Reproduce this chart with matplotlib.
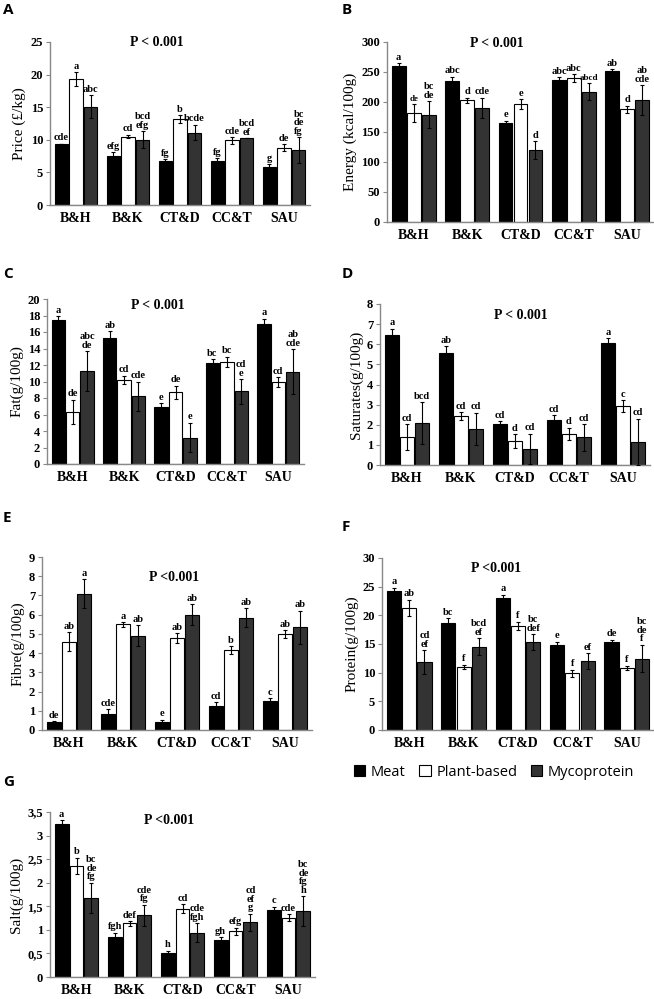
import matplotlib
matplotlib.use("Agg")
import matplotlib.pyplot as plt
import numpy as np
from matplotlib.patches import Patch

groups = ["B&H", "B&K", "CT&D", "CC&T", "SAU"]
series = ["Meat", "Plant-based", "Mycoprotein"]
colors = ["#000000", "#ffffff", "#333333"]

# each list: [meat, plant-based, mycoprotein]
price_mean = [[9.4, 7.5, 6.7, 6.8, 5.9], [19.3, 10.5, 13.2, 9.9, 8.8], [15.1, 10.0, 11.1, 10.2, 8.4]]
price_err = [[0.0, 0.6, 0.3, 0.4, 0.4], [1.1, 0.3, 0.6, 0.5, 0.5], [1.7, 1.3, 1.2, 0.0, 2.0]]
price_let = [["cde", "efg", "fg", "fg", "g"], ["a", "cd", "b", "cde", "de"],
             ["abc", "bcd\nefg", "bcde", "bcd\nef", "bc\nde\nfg"]]

energy_mean = [[260, 235, 165, 236, 251], [181, 203, 197, 240, 188], [179, 190, 120, 217, 203]]
energy_err = [[5, 7, 4, 5, 4], [15, 4, 8, 6, 6], [22, 17, 15, 14, 25]]
energy_let = [["a", "abc", "e", "abc", "ab"], ["de", "d", "e", "abc", "d"],
              ["bc\nde", "cde", "d", "abcd", "ab\ncde"]]

fat_mean = [[17.5, 15.3, 6.9, 12.2, 17.0], [6.3, 10.2, 8.7, 12.4, 9.9], [11.3, 8.2, 3.2, 8.8, 11.2]]
fat_err = [[0.4, 0.8, 0.5, 0.5, 0.6], [1.5, 0.5, 0.8, 0.6, 0.6], [2.4, 1.8, 1.8, 1.5, 2.7]]
fat_let = [["a", "ab", "e", "bc", "a"], ["de", "cd", "de", "bc", "cd"],
           ["abc\nde", "cde", "e", "cd\ne", "ab\ncde"]]

sat_mean = [[6.48, 5.56, 2.03, 2.23, 6.08], [1.38, 2.43, 1.17, 1.55, 2.92], [2.08, 1.8, 0.8, 1.37, 1.15]]
sat_err = [[0.3, 0.35, 0.15, 0.25, 0.22], [0.65, 0.2, 0.35, 0.3, 0.3], [1.05, 0.8, 0.75, 0.65, 1.15]]
sat_let = [["a", "ab", "cd", "cd", "a"], ["cd", "cd", "d", "d", "c"],
           ["bcd", "cd", "cd", "cd", "cd"]]

fibre_mean = [[0.4, 0.82, 0.42, 1.25, 1.5], [4.6, 5.5, 4.8, 4.15, 5.0], [7.1, 4.9, 6.0, 5.85, 5.35]]
fibre_err = [[0.05, 0.25, 0.12, 0.2, 0.15], [0.5, 0.12, 0.25, 0.2, 0.2], [0.75, 0.55, 0.55, 0.5, 0.85]]
fibre_let = [["de", "cde", "e", "cd", "c"], ["ab", "a", "ab", "b", "ab"],
             ["a", "ab", "ab", "ab", "ab"]]

protein_mean = [[24.2, 18.7, 23.1, 14.9, 15.35], [21.3, 11.0, 18.2, 9.9, 10.8], [11.8, 14.5, 15.35, 12.0, 12.45]]
protein_err = [[0.6, 0.8, 0.5, 0.5, 0.4], [1.4, 0.4, 0.7, 0.6, 0.4], [2.1, 1.5, 1.4, 1.4, 2.4]]
protein_let = [["a", "bc", "a", "e", "de"], ["ab", "f", "f", "f", "f"],
               ["cd\nef", "bcd\nef", "bc\ndef", "ef", "bc\nde\nf"]]

salt_mean = [[3.24, 0.84, 0.51, 0.78, 1.43], [2.36, 1.14, 1.45, 0.97, 1.26], [1.68, 1.31, 0.94, 1.16, 1.4]]
salt_err = [[0.08, 0.1, 0.05, 0.06, 0.06], [0.17, 0.05, 0.09, 0.08, 0.07], [0.32, 0.22, 0.2, 0.18, 0.31]]
salt_let = [["a", "fgh", "h", "gh", "c"], ["b", "def", "cd", "efg", "cde"],
            ["bc\nde\nfg", "cde\nfg", "cde\nfgh", "cd\nef\ng", "bc\nde\nfg\nh"]]

plt.rcParams["font.family"] = ["Liberation Serif", "DejaVu Serif"]
plt.rcParams["font.weight"] = "bold"

fig = plt.figure(figsize=(6.54, 9.99), dpi=100)
W, H = 654.0, 999.0


def make_ax(left, right, top, bottom):
    return fig.add_axes([left / W, 1 - bottom / H, (right - left) / W, (bottom - top) / H])


def draw(ax, mean, err, let, ymax, ticks, ticklabels, ylabel, ptext, ppos, small=()):
    x = np.arange(len(groups))
    for i in range(3):
        pos = x + (i - 1) * 0.28
        ax.bar(pos, mean[i], 0.26, color=colors[i], edgecolor="black", linewidth=0.8, zorder=2)
        ax.errorbar(pos, mean[i], yerr=err[i], fmt="none", ecolor="black",
                    elinewidth=0.8, capsize=1.5, capthick=0.8, zorder=3)
        for j in range(len(groups)):
            fs = 6.5 if (i, j) in small else 7.5
            ax.annotate(let[i][j], (pos[j], mean[i][j] + err[i][j]), xytext=(0, 1),
                        textcoords="offset points", ha="center", va="bottom",
                        fontsize=fs, fontweight="bold", linespacing=0.95)
    ax.set_xlim(-0.5, 4.5)
    ax.set_ylim(0, ymax)
    ax.set_yticks(ticks)
    ax.set_yticklabels(ticklabels)
    ax.set_xticks(x)
    ax.set_xticklabels(groups, fontsize=10)
    ax.tick_params(axis="x", length=0, pad=5)
    ax.tick_params(axis="y", length=3, color="#888888", labelsize=9, pad=2)
    for s in ["top", "right"]:
        ax.spines[s].set_visible(False)
    for s in ["left", "bottom"]:
        ax.spines[s].set_color("#888888")
        ax.spines[s].set_linewidth(1.0)
    ax.set_ylabel(ylabel, fontsize=11, labelpad=3)
    ax.text(ppos[0], ppos[1], ptext, transform=ax.transAxes, ha="center", va="center", fontsize=10)


axA = make_ax(50, 310, 42, 205)
draw(axA, price_mean, price_err, price_let, 25, range(0, 26, 5), [str(t) for t in range(0, 26, 5)],
     "Price (£/kg)", "P < 0.001", (0.41, 0.997))

axB = make_ax(387, 654, 42, 222)
draw(axB, energy_mean, energy_err, energy_let, 300, range(0, 301, 50), [str(t) for t in range(0, 301, 50)],
     "Energy (kcal/100g)", "P < 0.001", (0.41, 0.994), small={(2, 3), (1, 0)})

axC = make_ax(47, 304, 299, 464)
draw(axC, fat_mean, fat_err, fat_let, 20, range(0, 21, 2), [str(t) for t in range(0, 21, 2)],
     "Fat(g/100g)", "P < 0.001", (0.43, 0.96))

axD = make_ax(380, 650, 304, 465)
draw(axD, sat_mean, sat_err, sat_let, 8, range(0, 9), [str(t) for t in range(0, 9)],
     "Saturates(g/100g)", "P < 0.001", (0.52, 0.93))

axE = make_ax(42, 312, 557, 730)
draw(axE, fibre_mean, fibre_err, fibre_let, 9, range(0, 10), [str(t) for t in range(0, 10)],
     "Fibre(g/100g)", "P <0.001", (0.49, 0.884))

axF = make_ax(382, 654, 558, 730)
draw(axF, protein_mean, protein_err, protein_let, 30, range(0, 31, 5), [str(t) for t in range(0, 31, 5)],
     "Protein(g/100g)", "P <0.001", (0.42, 0.94))

axG = make_ax(50, 315, 812, 977)
salt_ticks = [0, 0.5, 1, 1.5, 2, 2.5, 3, 3.5]
draw(axG, salt_mean, salt_err, salt_let, 3.5, salt_ticks, ["0", "0,5", "1", "1,5", "2", "2,5", "3", "3,5"],
     "Salt(g/100g)", "P <0.001", (0.45, 0.95))

panel_pos = {"A": (3, 3), "B": (342, 3), "C": (3, 267), "D": (342, 267),
             "E": (3, 511), "F": (342, 520), "G": (3, 775)}
for lab, (px, py) in panel_pos.items():
    fig.text(px / W, 1 - py / H, lab, ha="left", va="top", fontsize=11,
             fontweight="bold", family=["Open Sans", "DejaVu Sans"])

handles = [Patch(facecolor=c, edgecolor="black", linewidth=0.8) for c in colors]
fig.legend(handles, series, loc="center", bbox_to_anchor=(494 / W, 1 - 772 / H), ncol=3,
           frameon=False, handlelength=0.8, handleheight=0.8, handletextpad=0.4,
           columnspacing=0.9, prop={"family": ["Open Sans", "DejaVu Sans"], "size": 10.5, "weight": "normal"})

fig.savefig("out.png", dpi=100)
